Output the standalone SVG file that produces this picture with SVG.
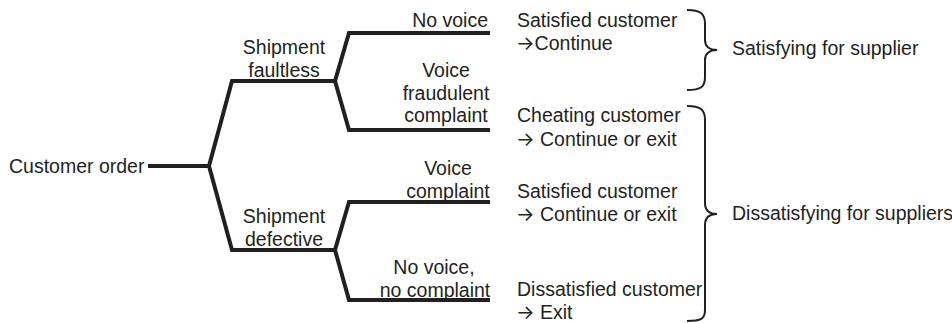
<svg xmlns="http://www.w3.org/2000/svg" width="952" height="323" viewBox="0 0 952 323">
<style>
text{font-family:"Liberation Sans",Arial,sans-serif;font-size:19.5px;fill:#231f20}
.a{font-family:Inter,"DejaVu Sans",sans-serif;font-size:19.5px}
.m{text-anchor:middle}
.e{text-anchor:end}
.br{fill:none;stroke:#231f20;stroke-width:4;stroke-linejoin:miter;stroke-linecap:butt}
.brace{fill:none;stroke:#231f20;stroke-width:2}
</style>
<rect width="952" height="323" fill="#fff"/>
<g id="connectors">
<path class="br" d="M148,166 L209,166"/>
<path class="br" d="M335,81 L232,81 L209,166 L232,250 L335,250"/>
<path class="br" d="M490,33 L349,33 L335,81 L349,130 L490,130"/>
<path class="br" d="M490,202 L349,202 L335,250 L349,300 L490,300"/>
</g>
<g id="root"><text x="9" y="172.5">Customer order</text></g>
<g id="faultless"><text class="m" x="284" y="54">Shipment</text><text class="m" x="284" y="77">faultless</text></g>
<g id="defective"><text class="m" x="284" y="223">Shipment</text><text class="m" x="284" y="246">defective</text></g>
<g id="novoice"><text class="e" x="488" y="27">No voice</text></g>
<g id="fraud"><text class="m" x="446" y="77">Voice</text><text class="m" x="446" y="99.5">fraudulent</text><text class="m" x="446" y="122">complaint</text></g>
<g id="voicecomplaint"><text class="m" x="448" y="175">Voice</text><text class="m" x="448" y="198">complaint</text></g>
<g id="nocomplaint"><text class="m" x="434" y="274">No voice,</text><text class="m" x="435" y="297">no complaint</text></g>
<g id="out1"><text x="517" y="27">Satisfied customer</text><text x="516" y="50"><tspan class="a">→</tspan>Continue</text></g>
<g id="out2"><text x="517" y="122">Cheating customer</text><text x="516" y="146"><tspan class="a">→</tspan> Continue or exit</text></g>
<g id="out3"><text x="517" y="198">Satisfied customer</text><text x="516" y="221"><tspan class="a">→</tspan> Continue or exit</text></g>
<g id="out4"><text x="517" y="296">Dissatisfied customer</text><text x="516" y="319"><tspan class="a">→</tspan> Exit</text></g>
<g id="brace1"><path class="brace" d="M687,10 C701,10 705,14 705,24 L705,40 C705,46 709,50 717,50 C709,50 705,54 705,60 L705,77 C705,87 701,90 687,90"/><text x="732" y="55">Satisfying for supplier</text></g>
<g id="brace2"><path class="brace" d="M687,106 C701,106 705,110 705,120 L705,203 C705,210 709,214 717,214 C709,214 705,218 705,225 L705,310 C705,319 701,321 687,321"/><text x="732" y="220">Dissatisfying for suppliers</text></g>
</svg>
